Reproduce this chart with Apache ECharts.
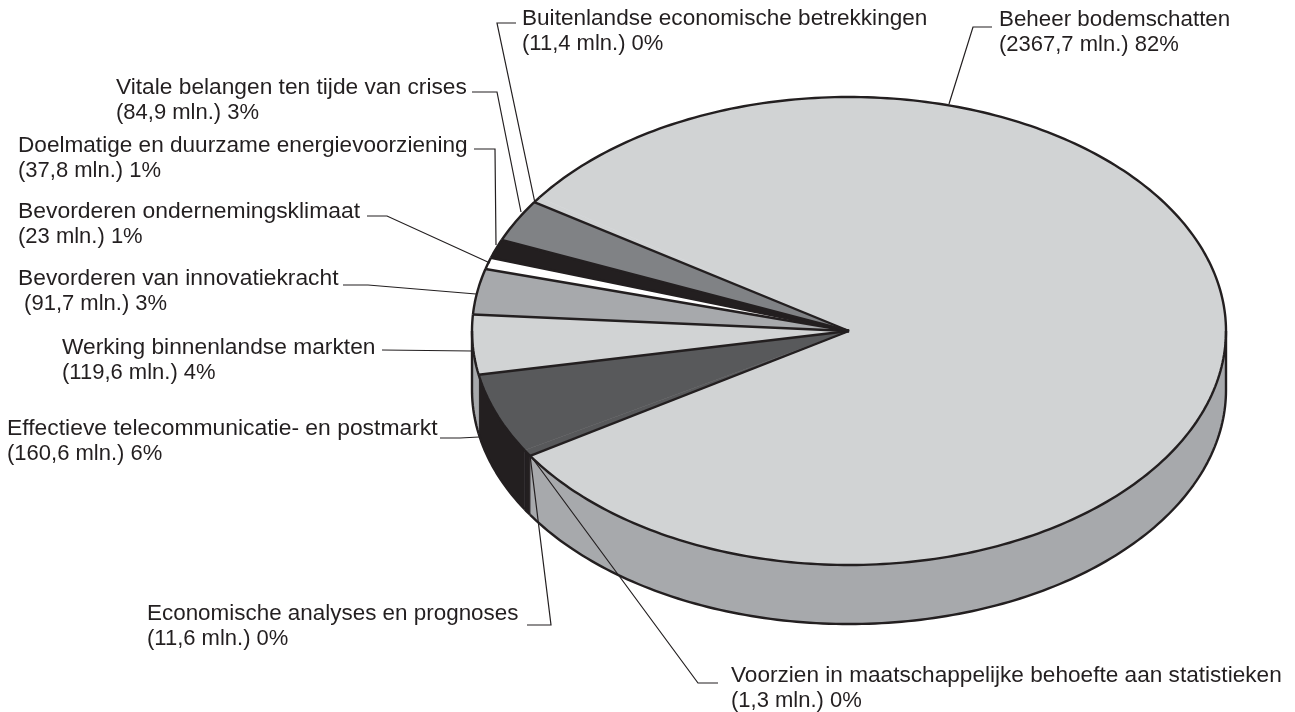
<!DOCTYPE html>
<html style="height: 100%">
<head>
    <meta charset="utf-8">
    <title>Beheer bodemschatten</title>
    <script src="https://cdn.jsdelivr.net/npm/echarts@6/dist/echarts.min.js"></script>
    <style>
        html, body { margin: 0; padding: 0; background: #fff; }
        #container { width: 1295px; height: 712px; }
    </style>
</head>
<body>
<div id="container"></div>
<script>
    // slices clockwise, starting right after "Vitale belangen"
    var names = [
        'Buitenlandse economische betrekkingen',
        'Beheer bodemschatten',
        'Voorzien in maatschappelijke behoefte aan statistieken',
        'Economische analyses en prognoses',
        'Effectieve telecommunicatie- en postmarkt',
        'Werking binnenlandse markten',
        'Bevorderen van innovatiekracht',
        'Bevorderen ondernemingsklimaat',
        'Doelmatige en duurzame energievoorziening',
        'Vitale belangen ten tijde van crises'
    ];
    var values = [11.4, 2367.7, 1.3, 11.6, 160.6, 119.6, 91.7, 23, 37.8, 84.9];
    var captions = ['(11,4 mln.) 0%', '(2367,7 mln.) 82%', '(1,3 mln.) 0%', '(11,6 mln.) 0%', '(160,6 mln.) 6%',
        '(119,6 mln.) 4%', ' (91,7 mln.) 3%', '(23 mln.) 1%', '(37,8 mln.) 1%', '(84,9 mln.) 3%'];
    var topColors = ['#d1d3d4', '#d1d3d4', '#58595b', '#58595b', '#58595b', '#d1d3d4', '#a7a9ac', '#ffffff', '#231f20', '#808285'];
    var sideColors = ['#a7a9ac', '#a7a9ac', '#231f20', '#231f20', '#231f20', '#a7a9ac', '#a7a9ac', '#ffffff', '#231f20', '#808285'];

    // label position [x, y of first line] and leader line per slice
    var labelPos = [[522, 19], [999, 20], [731, 676], [147, 614], [7, 429], [62, 348], [18, 279], [18, 212], [18, 146], [116, 88]];
    var nameStretch = [1.05, 1.04, 1.052, 1.043, 1.064, 1.059, 1.06, 1.064, 1.051, 1.057];
    var leaders = [
        [[516, 23], [497, 23], [535, 203]],
        [[992, 27], [973, 27], [949, 104]],
        [[718, 683], [698, 683], [530, 455]],
        [[527, 625], [551, 625], [530, 455]],
        [[440, 438], [460, 438], [479, 437]],
        [[382, 350], [472, 351]],
        [[343, 285], [368, 285], [476, 294]],
        [[367, 216], [387, 216], [490, 263]],
        [[474, 149], [495, 149], [496, 245]],
        [[472, 92], [497, 92], [521, 212]]
    ];

    var cx = 849, cy = 331, rx = 377, ry = 234, depth = 59, startT = 213.4;
    var captionStretch = 1.023, lineGap = 25;
    var ink = '#231f20';

    var total = values.reduce(function (a, b) { return a + b; }, 0);
    function sliceRange(i) {
        var sum = 0;
        for (var k = 0; k < i; k++) sum += values[k];
        return [startT + sum / total * 360, startT + (sum + values[i]) / total * 360];
    }
    function pt(t, dy) {
        var r = t * Math.PI / 180;
        return [cx + rx * Math.cos(r), cy + ry * Math.sin(r) + (dy || 0)];
    }
    function arc(a, b, dy) {
        var pts = [];
        for (var t = a; t < b; t += 1) pts.push(pt(t, dy));
        pts.push(pt(b, dy));
        return pts;
    }
    // parts of a slice that lie on the front (lower) half of the rim
    function frontParts(a, b) {
        var parts = [];
        [0, 360].forEach(function (k) {
            var lo = Math.max(a, k), hi = Math.min(b, k + 180);
            if (hi > lo) parts.push([lo, hi]);
        });
        return parts;
    }

    function renderSlice(params, api) {
        var i = params.dataIndex;
        var range = sliceRange(i);
        var children = [];
        frontParts(range[0], range[1]).forEach(function (p) {
            children.push({
                type: 'polygon',
                shape: { points: arc(p[0], p[1], 0).concat(arc(p[0], p[1], depth).reverse()) },
                style: { fill: sideColors[i], stroke: sideColors[i], lineWidth: 0.5 }
            });
        });
        children.push({
            type: 'polygon',
            shape: { points: [[cx, cy]].concat(arc(range[0], range[1], 0)) },
            style: { fill: topColors[i], stroke: topColors[i], lineWidth: 0.5 }
        });
        return { type: 'group', children: children };
    }

    function renderOutline(params, api) {
        var i = params.dataIndex;
        var range = sliceRange(i);
        var line = { stroke: ink, lineWidth: 2.4, fill: null, lineJoin: 'round' };
        var children = [{ type: 'polyline', shape: { points: arc(range[0], range[1], 0) }, style: line }];
        var prev = (i + values.length - 1) % values.length;
        if (topColors[i] !== topColors[prev]) {
            children.push({ type: 'line', shape: { x1: cx, y1: cy, x2: pt(range[0])[0], y2: pt(range[0])[1] }, style: line });
        }
        frontParts(range[0], range[1]).forEach(function (p) {
            children.push({ type: 'polyline', shape: { points: arc(p[0], p[1], depth) }, style: line });
            [0, 180].forEach(function (edge) {
                if (p[0] % 360 === edge || p[1] % 360 === edge) {
                    var top = pt(edge);
                    children.push({ type: 'line', shape: { x1: top[0], y1: top[1], x2: top[0], y2: top[1] + depth }, style: line });
                }
            });
        });
        return { type: 'group', children: children };
    }

    function labelText(text, x, y, stretch) {
        return {
            type: 'text',
            x: x,
            y: y,
            scaleX: stretch,
            z: 10,
            style: { text: text, fill: ink, font: '21.5px "Liberation Sans"', verticalAlign: 'middle' }
        };
    }

    var labelGraphics = [];
    names.forEach(function (name, i) {
        labelGraphics.push(labelText(name, labelPos[i][0], labelPos[i][1], nameStretch[i]));
        labelGraphics.push(labelText(captions[i], labelPos[i][0], labelPos[i][1] + lineGap, captionStretch));
        labelGraphics.push({
            type: 'polyline',
            z: 9,
            shape: { points: leaders[i] },
            style: { stroke: ink, lineWidth: 1.2, fill: null }
        });
    });

    var myChart = echarts.init(document.getElementById('container'));
    var seriesData = values.map(function (v, i) { return { name: names[i], value: v }; });
    myChart.setOption({
        animation: false,
        backgroundColor: '#ffffff',
        graphic: labelGraphics,
        series: [
            { type: 'custom', coordinateSystem: 'none', silent: true, z: 1, data: seriesData, renderItem: renderSlice },
            { type: 'custom', coordinateSystem: 'none', silent: true, z: 2, data: seriesData, renderItem: renderOutline }
        ]
    });
</script>
</body>
</html>
